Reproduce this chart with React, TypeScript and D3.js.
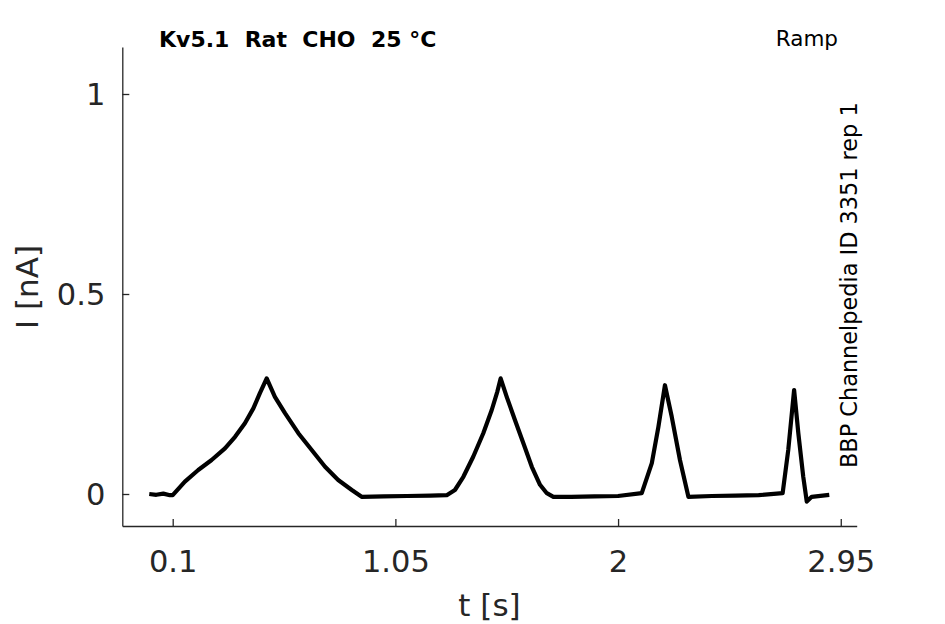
import { useEffect, useRef } from "react";
import * as d3 from "d3";

// Ramp protocol current trace (t in s, I in nA)
const TIME = [
  0.0, 0.03, 0.06, 0.088, 0.1,
  0.152, 0.209, 0.266, 0.323, 0.366, 0.408, 0.444, 0.472, 0.501,
  0.536, 0.579, 0.636, 0.693, 0.75, 0.806, 0.864, 0.906,
  1.0, 1.1, 1.2, 1.269,
  1.304, 1.34, 1.382, 1.425, 1.461, 1.485, 1.499,
  1.525, 1.56, 1.596, 1.632, 1.667, 1.696, 1.724,
  1.8, 1.9, 2.0, 2.101,
  2.144, 2.172, 2.2, 2.229, 2.264, 2.3,
  2.4, 2.5, 2.6, 2.702,
  2.726, 2.751, 2.769, 2.79, 2.805, 2.826, 2.901,
];
const CURRENT = [
  0.0, -0.002, 0.001, -0.003, -0.003,
  0.031, 0.06, 0.085, 0.114, 0.143, 0.177, 0.214, 0.252, 0.289,
  0.243, 0.202, 0.152, 0.11, 0.068, 0.035, 0.01, -0.007,
  -0.006, -0.005, -0.004, -0.003,
  0.01, 0.043, 0.093, 0.152, 0.21, 0.256, 0.289,
  0.243, 0.185, 0.127, 0.068, 0.023, 0.002, -0.007,
  -0.007, -0.006, -0.005, 0.002,
  0.077, 0.168, 0.272, 0.193, 0.085, -0.007,
  -0.005, -0.004, -0.003, 0.002,
  0.11, 0.26, 0.152, 0.043, -0.019, -0.007, -0.002,
];

const X_TICKS = [0.1, 1.05, 2, 2.95];
const X_TICK_LABELS = ["0.1", "1.05", "2", "2.95"];
const Y_TICKS = [0, 0.5, 1];
const Y_TICK_LABELS = ["0", "0.5", "1"];

const TITLE = "Kv5.1  Rat  CHO  25 °C";
const PROTOCOL = "Ramp";
const SOURCE = "BBP Channelpedia ID 3351 rep 1";

const W = 945;
const H = 624;
const FONT = "DejaVu Sans, sans-serif";
const AXIS_COLOR = "#262626";

export default function App() {
  const xAxisRef = useRef<SVGGElement>(null);
  const yAxisRef = useRef<SVGGElement>(null);

  const x = d3.scaleLinear().domain([-0.115, 3.018]).range([122.3, 856.7]);
  const y = d3.scaleLinear().domain([-0.08, 1.1175]).range([526, 47]);

  const points = TIME.map((t, i) => [t, CURRENT[i]] as [number, number]);
  const line = d3
    .line<[number, number]>()
    .x((d) => x(d[0]))
    .y((d) => y(d[1]));

  useEffect(() => {
    if (xAxisRef.current) {
      const g = d3.select(xAxisRef.current);
      g.selectAll("*").remove();
      g.call(
        d3
          .axisBottom(x)
          .tickValues(X_TICKS)
          .tickFormat((_, i) => X_TICK_LABELS[i])
          .tickSizeInner(-7)
          .tickSizeOuter(0)
      );
      g.attr("font-family", FONT).attr("font-size", 30.5);
      g.select(".domain").attr("stroke", AXIS_COLOR).attr("stroke-width", 1.3);
      g.selectAll(".tick line").attr("stroke", AXIS_COLOR).attr("stroke-width", 1.3);
      g.selectAll(".tick text").attr("fill", AXIS_COLOR).attr("y", 46).attr("dy", null);
    }
    if (yAxisRef.current) {
      const g = d3.select(yAxisRef.current);
      g.selectAll("*").remove();
      g.call(
        d3
          .axisLeft(y)
          .tickValues(Y_TICKS)
          .tickFormat((_, i) => Y_TICK_LABELS[i])
          .tickSizeInner(-7)
          .tickSizeOuter(0)
      );
      g.attr("font-family", FONT).attr("font-size", 30.5);
      g.select(".domain").attr("stroke", AXIS_COLOR).attr("stroke-width", 1.3);
      g.selectAll(".tick line").attr("stroke", AXIS_COLOR).attr("stroke-width", 1.3);
      g.selectAll(".tick text").attr("fill", AXIS_COLOR).attr("x", -17).attr("dy", "0.36em");
    }
  });

  return (
    <div style={{ position: "fixed", left: 0, top: 0, width: W, height: H, background: "#fff" }}>
      <svg width={W} height={H} viewBox={`0 0 ${W} ${H}`}>
        <rect width={W} height={H} fill="#fff" />
        <path
          d={line(points) ?? ""}
          fill="none"
          stroke="#000"
          strokeWidth={4.2}
          strokeLinejoin="round"
        />
        <g ref={xAxisRef} transform="translate(0,526)" />
        <g ref={yAxisRef} transform="translate(122.3,0)" />

        <text
          x={159}
          y={46.5}
          fontFamily={FONT}
          fontWeight="bold"
          fontSize={22}
          fill="#000"
          style={{ whiteSpace: "pre" }}
        >
          {TITLE}
        </text>
        <text x={838} y={45.7} textAnchor="end" fontFamily={FONT} fontSize={21.5} fill="#000">
          {PROTOCOL}
        </text>
        <text
          transform="translate(857,468) rotate(-90)"
          fontFamily={FONT}
          fontSize={22.4}
          fill="#000"
        >
          {SOURCE}
        </text>

        <text
          x={489.5}
          y={616}
          textAnchor="middle"
          fontFamily={FONT}
          fontSize={31}
          fill={AXIS_COLOR}
        >
          t [s]
        </text>
        <text
          transform="translate(37.5,287) rotate(-90)"
          textAnchor="middle"
          fontFamily={FONT}
          fontSize={31}
          fill={AXIS_COLOR}
        >
          I [nA]
        </text>
      </svg>
    </div>
  );
}
